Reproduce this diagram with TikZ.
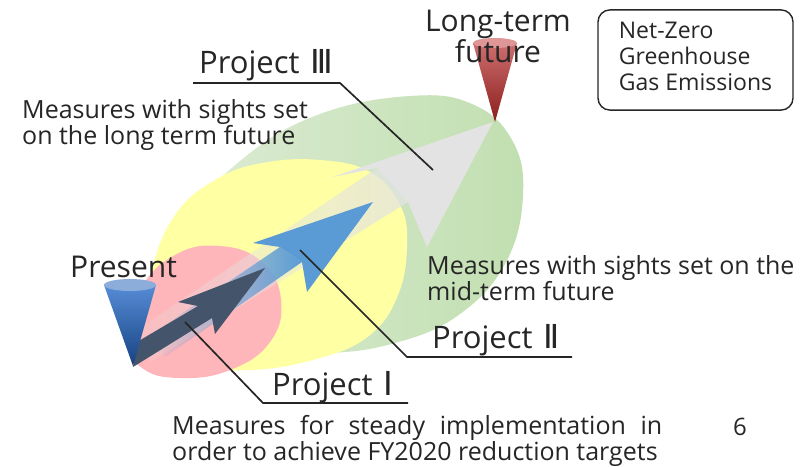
\documentclass[tikz,border=0pt]{standalone}
\usepackage{fontspec}
\setmainfont{Open Sans}
\newfontfamily\numeralfont{DejaVu Sans}
\usetikzlibrary{fadings}

\definecolor{inkgray}{RGB}{38,38,38}
\definecolor{pinkzone}{RGB}{255,182,186}
\definecolor{yellowzone}{RGB}{255,255,163}
\definecolor{greenlight}{RGB}{222,236,214}
\definecolor{greendark}{RGB}{193,223,176}
\definecolor{arrowgray}{RGB}{227,227,227}
\definecolor{arrowblue}{RGB}{91,155,213}
\definecolor{arrownavy}{RGB}{68,84,106}
\definecolor{conebluecap}{RGB}{140,172,218}
\definecolor{conebluetop}{RGB}{86,140,214}
\definecolor{conebluebot}{RGB}{22,66,130}
\definecolor{coneredcap}{RGB}{222,150,150}
\definecolor{coneredtop}{RGB}{205,110,110}
\definecolor{coneredbot}{RGB}{140,30,30}

% shafts get lighter towards the "present" end
\tikzfading[name=gray shaft, left color=transparent!80, right color=transparent!25]
\tikzfading[name=blue shaft, left color=transparent!100, middle color=transparent!75, right color=transparent!0]

\newcommand{\projno}[1]{\hspace{11pt}{\numeralfont\fontsize{33}{33}\selectfont #1}}

\begin{document}
\begin{tikzpicture}[x=1pt, y=-1pt,
    leader/.style={draw=inkgray, line width=1.7pt},
    projlabel/.style={inner sep=0pt, text=inkgray, anchor=base west, font=\fontsize{31}{31}\selectfont},
    notetext/.style={inner sep=0pt, text=inkgray, align=left, anchor=north west, font=\fontsize{25}{24}\selectfont},
    bigtext/.style={inner sep=0pt, text=inkgray, font=\fontsize{30}{30}\selectfont}]

    \fill[white] (0,0) rectangle (810,466);
    \useasboundingbox (0,0) rectangle (810,466);

    % horizon zones: long term, mid term, short term
    \shade[left color=greenlight, right color=greendark] plot[smooth cycle, tension=0.7] coordinates {
        (178,300) (196,215) (245,157) (320,114) (410,96) (472,104) (512,140) (523,195)
        (506,262) (460,314) (395,343) (320,353) (240,345)};
    \fill[yellowzone] plot[smooth cycle, tension=0.7] coordinates {
        (152,272) (175,215) (215,180) (262,163) (320,160) (370,172) (400,205) (407,245)
        (398,295) (370,335) (320,358) (250,370) (190,362) (155,322)};
    \fill[pinkzone] plot[smooth cycle, tension=0.75] coordinates {
        (128,340) (140,290) (175,255) (220,246) (262,262) (281,300) (270,342)
        (230,370) (180,378) (142,368)};

    % project arrows
    \fill[arrowgray, path fading=gray shaft] (140,328) -- (377,168) -- (408,202) -- (150,362) -- cycle;
    \fill[arrowgray] (377,168) -- (333,177) -- (493,122) -- (427,247) -- (408,202) -- cycle;
    \fill[arrowblue, path fading=blue shaft] (150,335) -- (280,247) -- (302,262) -- (165,357) -- cycle;
    \fill[arrowblue] (280,247) -- (253,243) -- (373,202) -- (307,292) -- (302,262) -- cycle;
    \fill[arrownavy] (133,367) -- (137,342) -- (198,306) -- (178,302) -- (265,268) -- (215,334) -- (212,318) -- cycle;

    % cones marking now and the long-term goal
    \shade[top color=conebluetop, bottom color=conebluebot] (104,285) -- (133,366) -- (156,285) -- cycle;
    \fill[conebluecap] (130,285) ellipse (26 and 6);
    \shade[top color=coneredtop, bottom color=coneredbot] (473,43) -- (495,122) -- (517,43) -- cycle;
    \fill[coneredcap] (495,43) ellipse (22 and 5);

    % labels
    \node[bigtext, anchor=base west] (present) at (70,277) {Present};
    \node[bigtext, align=center, anchor=north] (longterm) at (498,10) {Long-term\\future};
    \node[draw=inkgray, line width=1.4pt, rounded corners=12pt, inner xsep=18pt, inner ysep=12pt,
        align=left, text=inkgray, minimum width=195pt, minimum height=100pt,
        font=\fontsize{23}{26}\selectfont] (netzero) at (695.5,60) {Net-Zero\\Greenhouse\\Gas Emissions\strut};

    \node[projlabel] (proj3) at (199,73) {Project\projno{Ⅲ}};
    \node[notetext] (longnote) at (22,99) {Measures with sights set\\on the long term future};
    \node[projlabel] (proj2) at (432,348) {Project\projno{Ⅱ}};
    \node[notetext] (midnote) at (427,255) {Measures with sights set on the\\mid-term future};
    \node[projlabel] (proj1) at (272,395) {Project\projno{Ⅰ}};
    \node[notetext] (shortnote) at (172,415) {\makebox[490pt][s]{Measures for steady implementation in}\\order to achieve FY2020 reduction targets};
    \node[inner sep=0pt, text=inkgray, anchor=base west, font=\fontsize{24}{24}\selectfont] (pagenum) at (733,435) {6};

    % leader lines
    \coordinate (p3start) at (433,170);
    \coordinate (p3bend) at (340,83);
    \coordinate (p3end) at (193,83);
    \coordinate (p2start) at (300,250);
    \coordinate (p2bend) at (407,357);
    \coordinate (p2end) at (572,357);
    \coordinate (p1start) at (185,322);
    \coordinate (p1bend) at (263,403);
    \coordinate (p1end) at (408,403);
    \draw[leader] (p3start) -- (p3bend) -- (p3end);
    \draw[leader] (p2start) -- (p2bend) -- (p2end);
    \draw[leader] (p1start) -- (p1bend) -- (p1end);
\end{tikzpicture}
\end{document}
